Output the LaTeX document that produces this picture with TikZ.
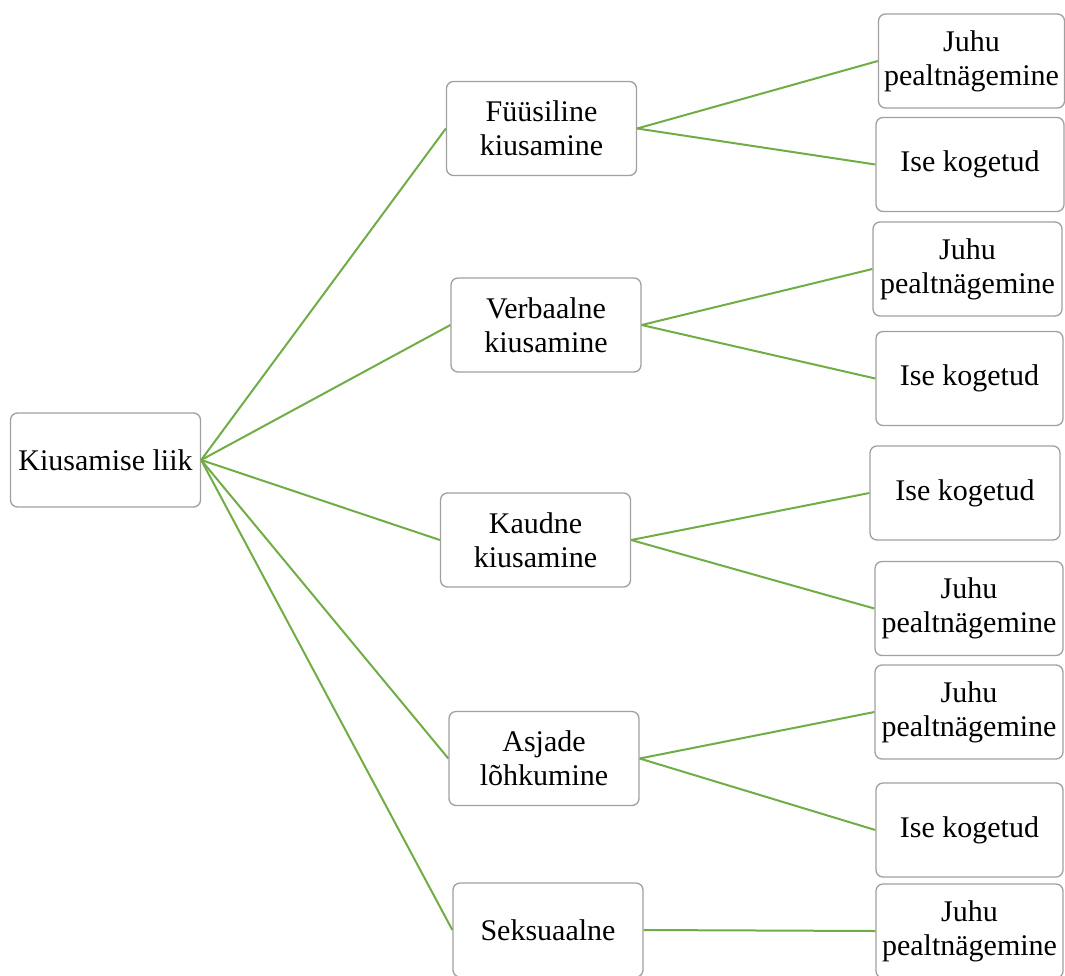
\documentclass[tikz,border=0pt]{standalone}
\usepackage{fontspec}
\setmainfont{Liberation Serif}
\usetikzlibrary{positioning}

\definecolor{linkgreen}{RGB}{112,173,71}
\definecolor{boxgray}{RGB}{160,160,160}

\begin{document}
\begin{tikzpicture}[
    x=1pt, y=-1pt,
    box/.style={rectangle, draw=boxgray, line width=1.3pt, rounded corners=7pt, fill=white, minimum width=190pt, minimum height=94pt, inner sep=0pt, align=center, font=\fontsize{30}{34}\selectfont},
    link/.style={draw=linkgreen, line width=2pt},
]
\useasboundingbox (0,0) rectangle (1065,975);
\clip (0,0) rectangle (1065,975);

\node[box] (root) at (105.5,460) {Kiusamise liik};

% Kiusamise liigid
\node[box] (fyys) at (541.5,128.5) {Füüsiline\\kiusamine};
\node[box] (verb) at (546,325) {Verbaalne\\kiusamine};
\node[box] (kaud) at (535.5,540) {Kaudne\\kiusamine};
\node[box] (asja) at (544,758.5) {Asjade\\lõhkumine};
\node[box] (seks) at (548,930) {Seksuaalne};

% Juhu pealtnägemine / Ise kogetud
\node[box, minimum width=186pt] (fyys1) at (971.5,61) {Juhu\\pealtnägemine};
\node[box, minimum width=188pt] (fyys2) at (970,164.5) {Ise kogetud};
\node[box, minimum width=189pt] (verb1) at (967.5,269) {Juhu\\pealtnägemine};
\node[box, minimum width=187pt] (verb2) at (969.5,378.5) {Ise kogetud};
\node[box] (kaud1) at (965,493) {Ise kogetud};
\node[box, minimum width=188pt] (kaud2) at (969,608.5) {Juhu\\pealtnägemine};
\node[box, minimum width=188pt] (asja1) at (969,712) {Juhu\\pealtnägemine};
\node[box, minimum width=187pt] (asja2) at (969.5,830) {Ise kogetud};
\node[box, minimum width=187pt] (seks1) at (969.5,931) {Juhu\\pealtnägemine};

\foreach \b in {fyys, verb, kaud, asja, seks}
    \draw[link] (root.east) -- (\b.west);

\draw[link] (fyys.east) -- (fyys1.west);
\draw[link] (fyys.east) -- (fyys2.west);
\draw[link] (verb.east) -- (verb1.west);
\draw[link] (verb.east) -- (verb2.west);
\draw[link] (kaud.east) -- (kaud1.west);
\draw[link] (kaud.east) -- (kaud2.west);
\draw[link] (asja.east) -- (asja1.west);
\draw[link] (asja.east) -- (asja2.west);
\draw[link] (seks.east) -- (seks1.west);

\end{tikzpicture}
\end{document}
